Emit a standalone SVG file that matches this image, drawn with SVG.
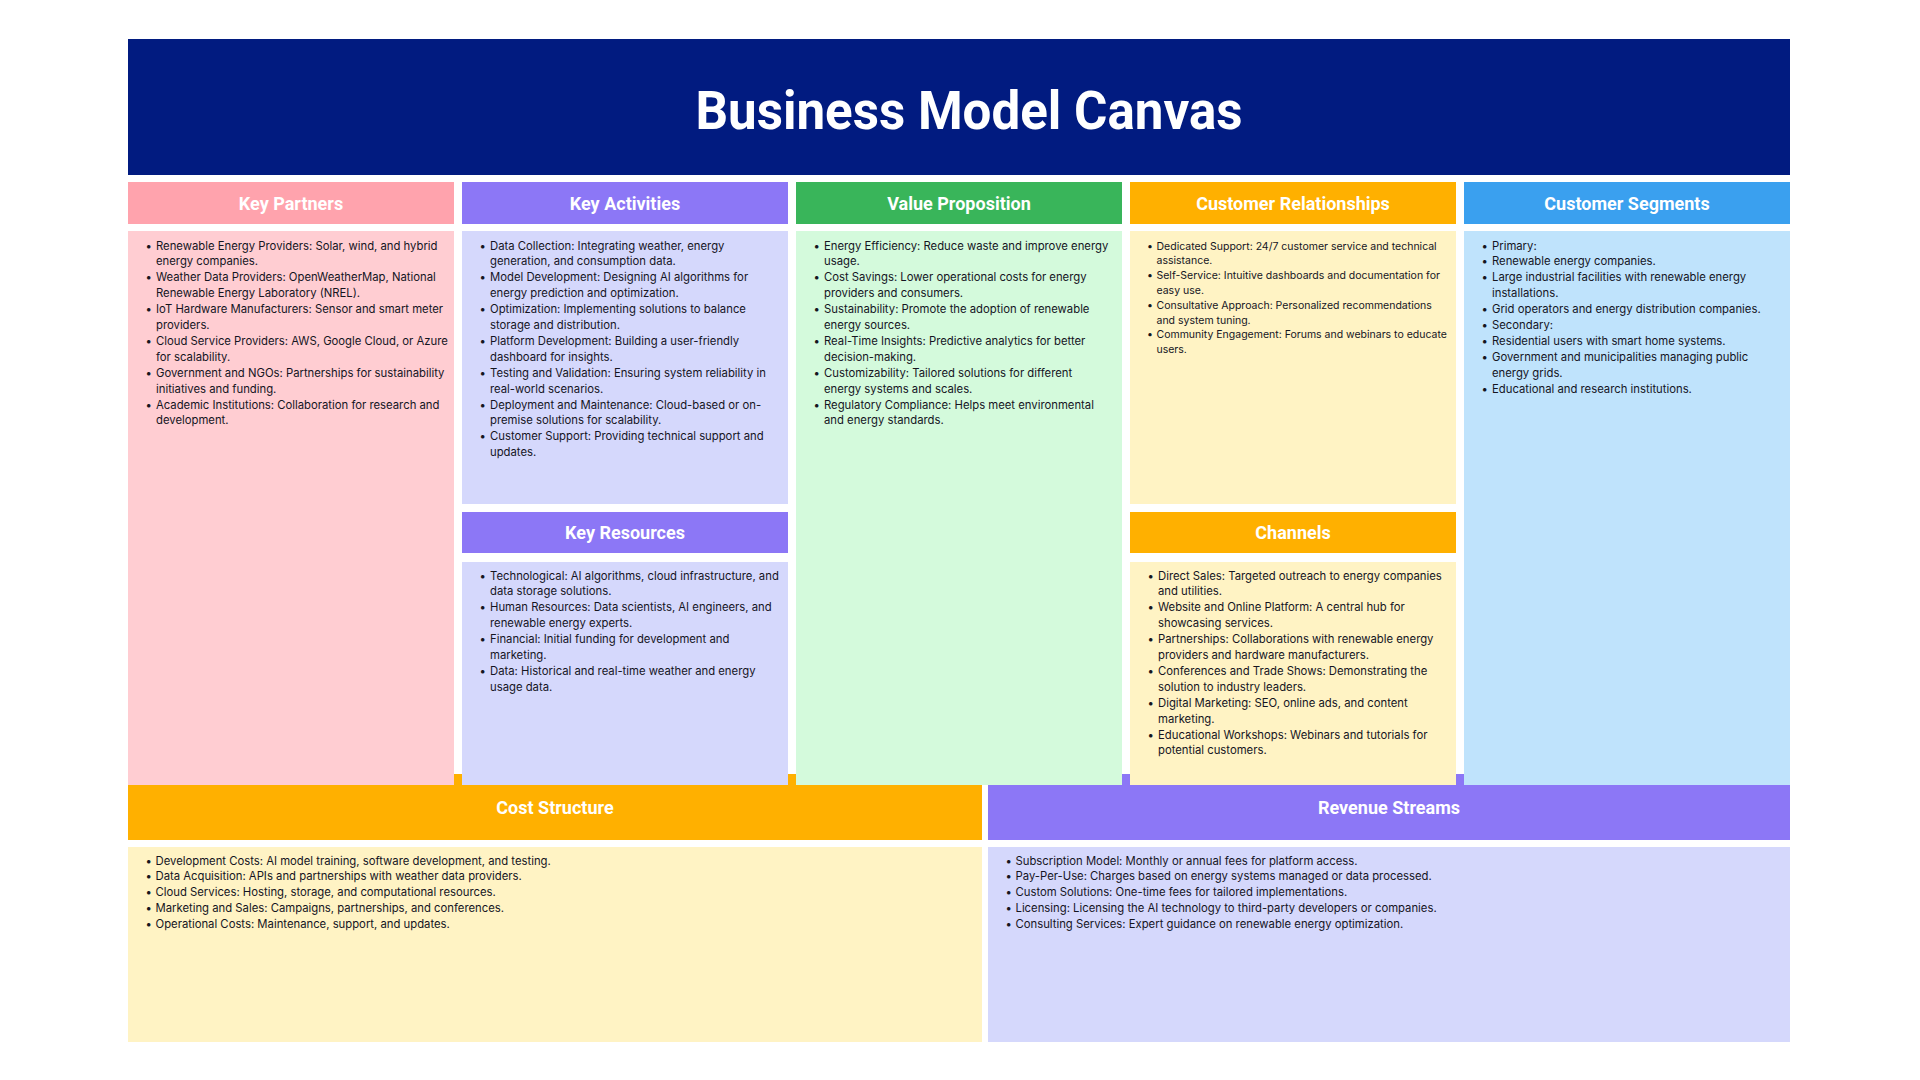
<svg xmlns="http://www.w3.org/2000/svg" width="1920" height="1080" viewBox="0 0 1920 1080">
  <style>
    .title { font-family: Roboto, "Liberation Sans", sans-serif; font-weight: 700; font-size: 54px; fill: #ffffff; text-anchor: middle; }
    .hd { font-family: Roboto, "Liberation Sans", sans-serif; font-weight: 700; font-size: 18px; fill: #ffffff; text-anchor: middle; }
    .tx { font-family: Inter, "DejaVu Sans", sans-serif; font-size: 11.3px; fill: #15151f; }
    .sm { font-size: 10.5px; }
    .pink-h { fill: #ffa3ad; } .pink-b { fill: #ffcdd2; }
    .violet-h { fill: #8c77f6; } .violet-b { fill: #d5d8fc; }
    .green-h { fill: #39b55a; } .green-b { fill: #d4fadc; }
    .amber-h { fill: #ffb000; } .amber-b { fill: #fff3c4; }
    .blue-h { fill: #3aa0ef; } .blue-b { fill: #bfe3fc; }
  </style>

  <rect width="1920" height="1080" fill="#ffffff"/>

  <!-- Title banner -->
  <g id="banner">
    <rect x="128" y="39" width="1662" height="136" fill="#011b80"/>
    <text class="title" x="969" y="129" textLength="547" lengthAdjust="spacingAndGlyphs">Business Model Canvas</text>
  </g>

  <!-- Bottom row (headers sit slightly under the upper panels) -->
  <g id="cost-structure">
    <rect class="amber-h" x="128" y="774" width="854" height="66"/>
    <text class="hd" x="555" y="814">Cost Structure</text>
    <rect class="amber-b" x="128" y="847" width="854" height="195"/>
    <text class="tx">
      <tspan x="145.5" y="864.5">•</tspan><tspan x="155.5" y="864.5">Development Costs: AI model training, software development, and testing.</tspan>
      <tspan x="145.5" y="880.4">•</tspan><tspan x="155.5" y="880.4">Data Acquisition: APIs and partnerships with weather data providers.</tspan>
      <tspan x="145.5" y="896.3">•</tspan><tspan x="155.5" y="896.3">Cloud Services: Hosting, storage, and computational resources.</tspan>
      <tspan x="145.5" y="912.2">•</tspan><tspan x="155.5" y="912.2">Marketing and Sales: Campaigns, partnerships, and conferences.</tspan>
      <tspan x="145.5" y="928.1">•</tspan><tspan x="155.5" y="928.1">Operational Costs: Maintenance, support, and updates.</tspan>
    </text>
  </g>

  <g id="revenue-streams">
    <rect class="violet-h" x="988" y="774" width="802" height="66"/>
    <text class="hd" x="1389" y="814">Revenue Streams</text>
    <rect class="violet-b" x="988" y="847" width="802" height="195"/>
    <text class="tx">
      <tspan x="1005.5" y="864.5">•</tspan><tspan x="1015.5" y="864.5">Subscription Model: Monthly or annual fees for platform access.</tspan>
      <tspan x="1005.5" y="880.4">•</tspan><tspan x="1015.5" y="880.4">Pay-Per-Use: Charges based on energy systems managed or data processed.</tspan>
      <tspan x="1005.5" y="896.3">•</tspan><tspan x="1015.5" y="896.3">Custom Solutions: One-time fees for tailored implementations.</tspan>
      <tspan x="1005.5" y="912.2">•</tspan><tspan x="1015.5" y="912.2">Licensing: Licensing the AI technology to third-party developers or companies.</tspan>
      <tspan x="1005.5" y="928.1">•</tspan><tspan x="1015.5" y="928.1">Consulting Services: Expert guidance on renewable energy optimization.</tspan>
    </text>
  </g>

  <!-- Upper row -->
  <g id="key-partners">
    <rect class="pink-h" x="128" y="182" width="326" height="42"/>
    <text class="hd" x="291" y="210">Key Partners</text>
    <rect class="pink-b" x="128" y="231" width="326" height="554"/>
    <text class="tx">
      <tspan x="145.5" y="249.5">•</tspan><tspan x="156" y="249.5">Renewable Energy Providers: Solar, wind, and hybrid</tspan>
      <tspan x="156" y="265.4">energy companies.</tspan>
      <tspan x="145.5" y="281.3">•</tspan><tspan x="156" y="281.3">Weather Data Providers: OpenWeatherMap, National</tspan>
      <tspan x="156" y="297.2">Renewable Energy Laboratory (NREL).</tspan>
      <tspan x="145.5" y="313.1">•</tspan><tspan x="156" y="313.1">IoT Hardware Manufacturers: Sensor and smart meter</tspan>
      <tspan x="156" y="329">providers.</tspan>
      <tspan x="145.5" y="344.9">•</tspan><tspan x="156" y="344.9">Cloud Service Providers: AWS, Google Cloud, or Azure</tspan>
      <tspan x="156" y="360.8">for scalability.</tspan>
      <tspan x="145.5" y="376.7">•</tspan><tspan x="156" y="376.7">Government and NGOs: Partnerships for sustainability</tspan>
      <tspan x="156" y="392.6">initiatives and funding.</tspan>
      <tspan x="145.5" y="408.5">•</tspan><tspan x="156" y="408.5">Academic Institutions: Collaboration for research and</tspan>
      <tspan x="156" y="424.4">development.</tspan>
    </text>
  </g>

  <g id="key-activities">
    <rect class="violet-h" x="462" y="182" width="326" height="42"/>
    <text class="hd" x="625" y="210">Key Activities</text>
    <rect class="violet-b" x="462" y="231" width="326" height="273"/>
    <text class="tx">
      <tspan x="479.5" y="249.5">•</tspan><tspan x="490" y="249.5">Data Collection: Integrating weather, energy</tspan>
      <tspan x="490" y="265.4">generation, and consumption data.</tspan>
      <tspan x="479.5" y="281.3">•</tspan><tspan x="490" y="281.3">Model Development: Designing AI algorithms for</tspan>
      <tspan x="490" y="297.2">energy prediction and optimization.</tspan>
      <tspan x="479.5" y="313.1">•</tspan><tspan x="490" y="313.1">Optimization: Implementing solutions to balance</tspan>
      <tspan x="490" y="329">storage and distribution.</tspan>
      <tspan x="479.5" y="344.9">•</tspan><tspan x="490" y="344.9">Platform Development: Building a user-friendly</tspan>
      <tspan x="490" y="360.8">dashboard for insights.</tspan>
      <tspan x="479.5" y="376.7">•</tspan><tspan x="490" y="376.7">Testing and Validation: Ensuring system reliability in</tspan>
      <tspan x="490" y="392.6">real-world scenarios.</tspan>
      <tspan x="479.5" y="408.5">•</tspan><tspan x="490" y="408.5">Deployment and Maintenance: Cloud-based or on-</tspan>
      <tspan x="490" y="424.4">premise solutions for scalability.</tspan>
      <tspan x="479.5" y="440.3">•</tspan><tspan x="490" y="440.3">Customer Support: Providing technical support and</tspan>
      <tspan x="490" y="456.2">updates.</tspan>
    </text>
  </g>

  <g id="key-resources">
    <rect class="violet-h" x="462" y="512" width="326" height="41"/>
    <text class="hd" x="625" y="539">Key Resources</text>
    <rect class="violet-b" x="462" y="562" width="326" height="223"/>
    <text class="tx">
      <tspan x="479.5" y="579.5">•</tspan><tspan x="490" y="579.5">Technological: AI algorithms, cloud infrastructure, and</tspan>
      <tspan x="490" y="595.4">data storage solutions.</tspan>
      <tspan x="479.5" y="611.3">•</tspan><tspan x="490" y="611.3">Human Resources: Data scientists, AI engineers, and</tspan>
      <tspan x="490" y="627.2">renewable energy experts.</tspan>
      <tspan x="479.5" y="643.1">•</tspan><tspan x="490" y="643.1">Financial: Initial funding for development and</tspan>
      <tspan x="490" y="659">marketing.</tspan>
      <tspan x="479.5" y="674.9">•</tspan><tspan x="490" y="674.9">Data: Historical and real-time weather and energy</tspan>
      <tspan x="490" y="690.8">usage data.</tspan>
    </text>
  </g>

  <g id="value-proposition">
    <rect class="green-h" x="796" y="182" width="326" height="42"/>
    <text class="hd" x="959" y="210">Value Proposition</text>
    <rect class="green-b" x="796" y="231" width="326" height="554"/>
    <text class="tx">
      <tspan x="813.5" y="249.5">•</tspan><tspan x="824" y="249.5">Energy Efficiency: Reduce waste and improve energy</tspan>
      <tspan x="824" y="265.4">usage.</tspan>
      <tspan x="813.5" y="281.3">•</tspan><tspan x="824" y="281.3">Cost Savings: Lower operational costs for energy</tspan>
      <tspan x="824" y="297.2">providers and consumers.</tspan>
      <tspan x="813.5" y="313.1">•</tspan><tspan x="824" y="313.1">Sustainability: Promote the adoption of renewable</tspan>
      <tspan x="824" y="329">energy sources.</tspan>
      <tspan x="813.5" y="344.9">•</tspan><tspan x="824" y="344.9">Real-Time Insights: Predictive analytics for better</tspan>
      <tspan x="824" y="360.8">decision-making.</tspan>
      <tspan x="813.5" y="376.7">•</tspan><tspan x="824" y="376.7">Customizability: Tailored solutions for different</tspan>
      <tspan x="824" y="392.6">energy systems and scales.</tspan>
      <tspan x="813.5" y="408.5">•</tspan><tspan x="824" y="408.5">Regulatory Compliance: Helps meet environmental</tspan>
      <tspan x="824" y="424.4">and energy standards.</tspan>
    </text>
  </g>

  <g id="customer-relationships">
    <rect class="amber-h" x="1130" y="182" width="326" height="42"/>
    <text class="hd" x="1293" y="210">Customer Relationships</text>
    <rect class="amber-b" x="1130" y="231" width="326" height="273"/>
    <text class="tx sm">
      <tspan x="1147" y="249.5">•</tspan><tspan x="1156.5" y="249.5">Dedicated Support: 24/7 customer service and technical</tspan>
      <tspan x="1156.5" y="264.3">assistance.</tspan>
      <tspan x="1147" y="279.1">•</tspan><tspan x="1156.5" y="279.1">Self-Service: Intuitive dashboards and documentation for</tspan>
      <tspan x="1156.5" y="293.9">easy use.</tspan>
      <tspan x="1147" y="308.7">•</tspan><tspan x="1156.5" y="308.7">Consultative Approach: Personalized recommendations</tspan>
      <tspan x="1156.5" y="323.5">and system tuning.</tspan>
      <tspan x="1147" y="338.3">•</tspan><tspan x="1156.5" y="338.3">Community Engagement: Forums and webinars to educate</tspan>
      <tspan x="1156.5" y="353.1">users.</tspan>
    </text>
  </g>

  <g id="channels">
    <rect class="amber-h" x="1130" y="512" width="326" height="41"/>
    <text class="hd" x="1293" y="539">Channels</text>
    <rect class="amber-b" x="1130" y="562" width="326" height="223"/>
    <text class="tx">
      <tspan x="1147.5" y="579.5">•</tspan><tspan x="1158" y="579.5">Direct Sales: Targeted outreach to energy companies</tspan>
      <tspan x="1158" y="595.4">and utilities.</tspan>
      <tspan x="1147.5" y="611.3">•</tspan><tspan x="1158" y="611.3">Website and Online Platform: A central hub for</tspan>
      <tspan x="1158" y="627.2">showcasing services.</tspan>
      <tspan x="1147.5" y="643.1">•</tspan><tspan x="1158" y="643.1">Partnerships: Collaborations with renewable energy</tspan>
      <tspan x="1158" y="659">providers and hardware manufacturers.</tspan>
      <tspan x="1147.5" y="674.9">•</tspan><tspan x="1158" y="674.9">Conferences and Trade Shows: Demonstrating the</tspan>
      <tspan x="1158" y="690.8">solution to industry leaders.</tspan>
      <tspan x="1147.5" y="706.7">•</tspan><tspan x="1158" y="706.7">Digital Marketing: SEO, online ads, and content</tspan>
      <tspan x="1158" y="722.6">marketing.</tspan>
      <tspan x="1147.5" y="738.5">•</tspan><tspan x="1158" y="738.5">Educational Workshops: Webinars and tutorials for</tspan>
      <tspan x="1158" y="754.4">potential customers.</tspan>
    </text>
  </g>

  <g id="customer-segments">
    <rect class="blue-h" x="1464" y="182" width="326" height="42"/>
    <text class="hd" x="1627" y="210">Customer Segments</text>
    <rect class="blue-b" x="1464" y="231" width="326" height="554"/>
    <text class="tx">
      <tspan x="1481.5" y="249.5">•</tspan><tspan x="1492" y="249.5">Primary:</tspan>
      <tspan x="1481.5" y="265.4">•</tspan><tspan x="1492" y="265.4">Renewable energy companies.</tspan>
      <tspan x="1481.5" y="281.3">•</tspan><tspan x="1492" y="281.3">Large industrial facilities with renewable energy</tspan>
      <tspan x="1492" y="297.2">installations.</tspan>
      <tspan x="1481.5" y="313.1">•</tspan><tspan x="1492" y="313.1">Grid operators and energy distribution companies.</tspan>
      <tspan x="1481.5" y="329">•</tspan><tspan x="1492" y="329">Secondary:</tspan>
      <tspan x="1481.5" y="344.9">•</tspan><tspan x="1492" y="344.9">Residential users with smart home systems.</tspan>
      <tspan x="1481.5" y="360.8">•</tspan><tspan x="1492" y="360.8">Government and municipalities managing public</tspan>
      <tspan x="1492" y="376.7">energy grids.</tspan>
      <tspan x="1481.5" y="392.6">•</tspan><tspan x="1492" y="392.6">Educational and research institutions.</tspan>
    </text>
  </g>

  <!-- The canvas has no connectors between blocks -->
  <g id="connectors"/>
</svg>
